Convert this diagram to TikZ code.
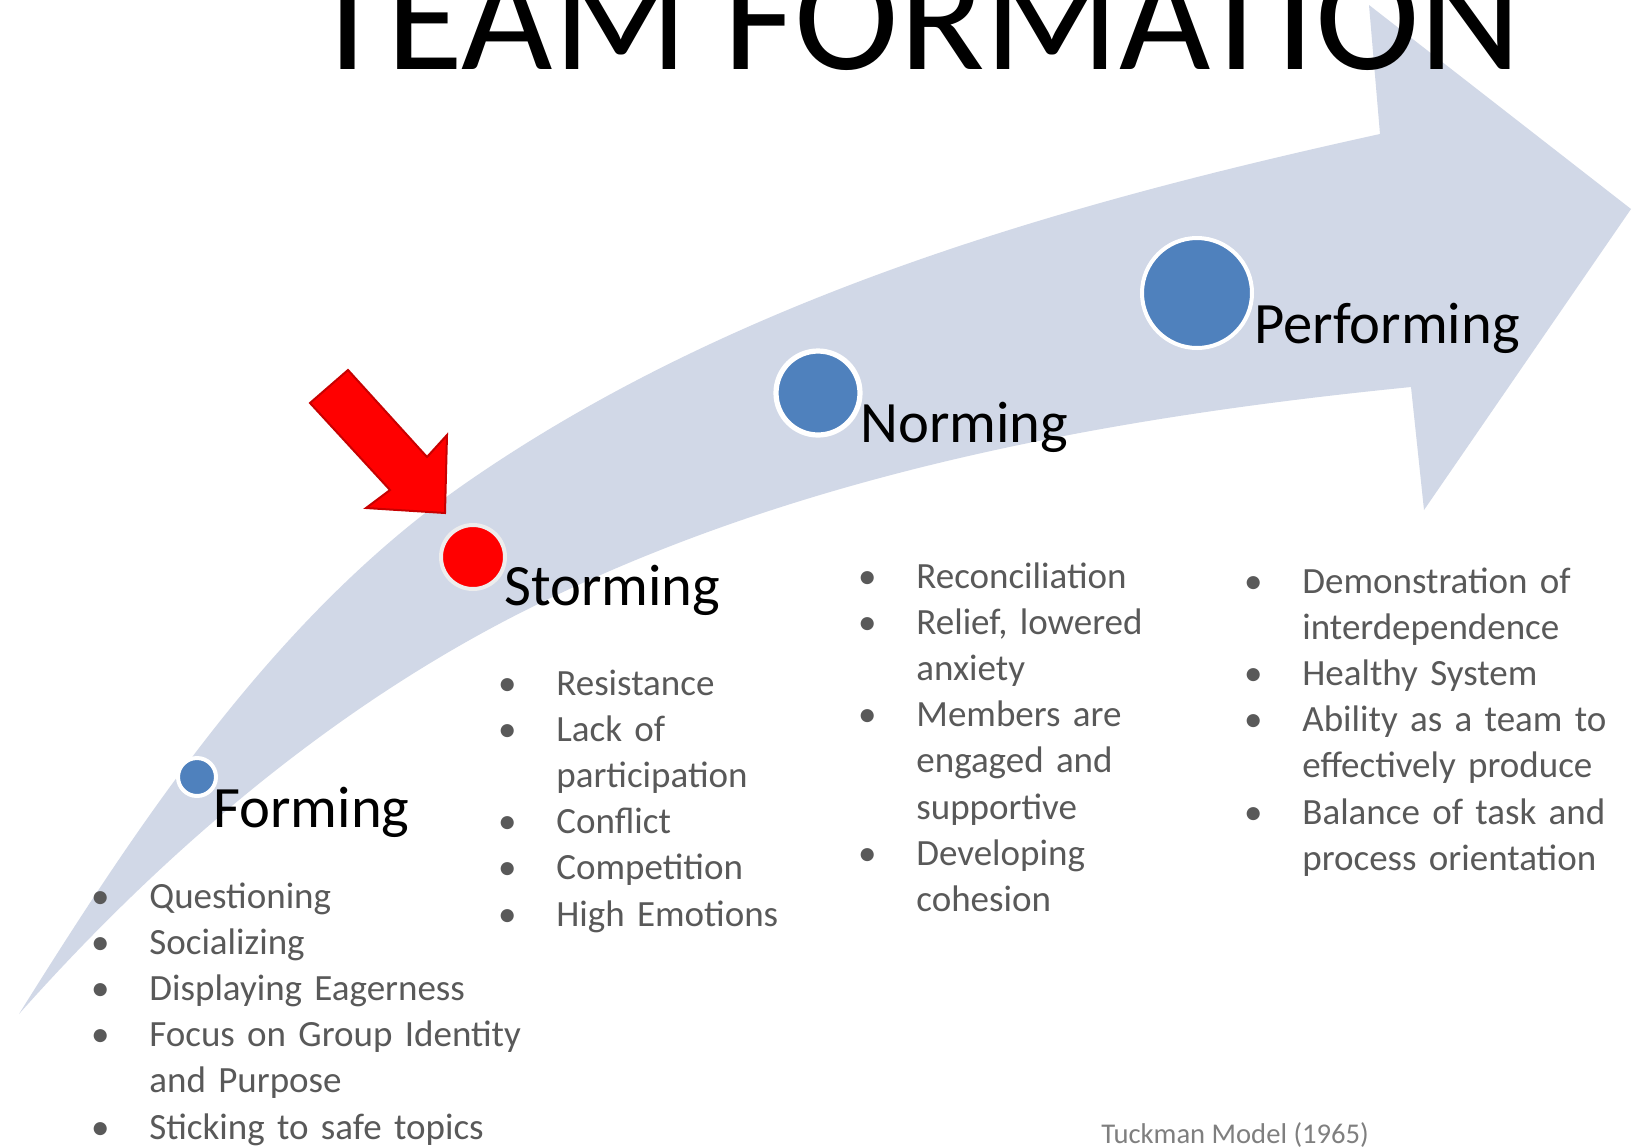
\documentclass[tikz,border=0pt]{standalone}
\usepackage{fontspec}
\setmainfont{Carlito}
\definecolor{bandcol}{RGB}{209,216,231}
\definecolor{stageblue}{RGB}{79,129,189}
\definecolor{bodygray}{RGB}{89,89,89}
\definecolor{notegray}{RGB}{127,127,127}
\definecolor{arrowred}{RGB}{255,0,0}
\definecolor{arrowedge}{RGB}{200,0,0}
\newlength\hangw
\setlength\hangw{24.5pt}
\newcommand\bul[1]{\hangindent=\hangw\hangafter=1\noindent\makebox[\hangw][l]{\makebox[0pt][c]{\textbullet}}#1\par}
\newcommand\nl{\hfil\break}
\begin{document}
\begin{tikzpicture}[x=0.5pt,y=-0.5pt,
  stagedot/.style={circle, draw=white, inner sep=0pt, fill=stageblue},
  stagelabel/.style={anchor=base west, inner sep=0pt, font=\fontsize{29.3}{35}\selectfont, text=black},
  itemlist/.style={anchor=base west, inner sep=0pt, text width=#1, align=left,
    font=\fontsize{18.5}{23.1}\selectfont, text=bodygray}]
\useasboundingbox (0,0) rectangle (1639,1147);
\fill[white] (0,0) rectangle (1639,1147);
% big curved arrow
\coordinate (tail) at (19,1014);
\coordinate (um) at (463,485);
\coordinate (ui) at (1380,134);
\coordinate (ht) at (1369,5);
\coordinate (tip) at (1631,209);
\coordinate (hb) at (1424,510);
\coordinate (li) at (1411,387);
\coordinate (lm) at (530,608);
\fill[bandcol] (tail) .. controls (141,819) and (275,617) .. (um)
  .. controls (731,298) and (1061,204) .. (ui)
  -- (ht) -- (tip) -- (hb) -- (li)
  .. controls (1110,417) and (801,473) .. (lm)
  .. controls (335,705) and (164,851) .. (tail) -- cycle;
% red pointer arrow
\coordinate (ra) at (348,370);
\coordinate (rb) at (310,403);
\coordinate (rc) at (390,490);
\coordinate (rd) at (366,508);
\coordinate (re) at (445,513);
\coordinate (rf) at (447,435);
\coordinate (rg) at (427,457);
\filldraw[fill=arrowred, draw=arrowedge, line width=1pt, line join=miter]
  (ra) -- (rg) -- (rf) -- (re) -- (rd) -- (rc) -- (rb) -- cycle;
% stage dots
\node[stagedot, minimum size=19pt, line width=2pt] (d1) at (197,777) {};
\node[circle, draw=white!93!black, fill=arrowred, inner sep=0pt, minimum size=32pt, line width=2pt] (d2) at (473,557) {};
\node[stagedot, minimum size=42pt, line width=2.6pt] (d3) at (818,393) {};
\node[stagedot, minimum size=55pt, line width=2pt] (d4) at (1197,293) {};
% title
\node[anchor=base west, inner sep=0pt, font=\fontsize{78.9}{82}\selectfont] (title) at (309,69) {TEAM FORMATION};
% stage labels
\node[stagelabel] (l1) at (213,827) {Forming};
\node[stagelabel] (l2) at (504,605) {Storming};
\node[stagelabel] (l3) at (860,442) {Norming};
\node[stagelabel] (l4) at (1254,343) {Performing};
% lists
\node[itemlist=220pt] (i1) at (100,908) {\bul{Questioning}\bul{Socializing}\bul{Displaying Eagerness}\bul{Focus on Group Identity\nl and Purpose}\bul{Sticking to safe topics}};
\node[itemlist=160pt] (i2) at (507,695) {\bul{Resistance}\bul{Lack of\nl participation}\bul{Conflict}\bul{Competition}\bul{High Emotions}};
\node[itemlist=160pt] (i3) at (867,588) {\bul{Reconciliation}\bul{Relief, lowered\nl anxiety}\bul{Members are\nl engaged and\nl supportive}\bul{Developing\nl cohesion}};
\node[itemlist=180pt] (i4) at (1253,593) {\bul{Demonstration of\nl interdependence}\bul{Healthy System}\bul{Ability as a team to\nl effectively produce}\bul{Balance of task and\nl process orientation}};
% source
\node[anchor=base west, inner sep=0pt, font=\fontsize{14.3}{17}\selectfont, text=notegray] (src) at (1101,1143) {Tuckman Model (1965)};
\end{tikzpicture}
\end{document}
